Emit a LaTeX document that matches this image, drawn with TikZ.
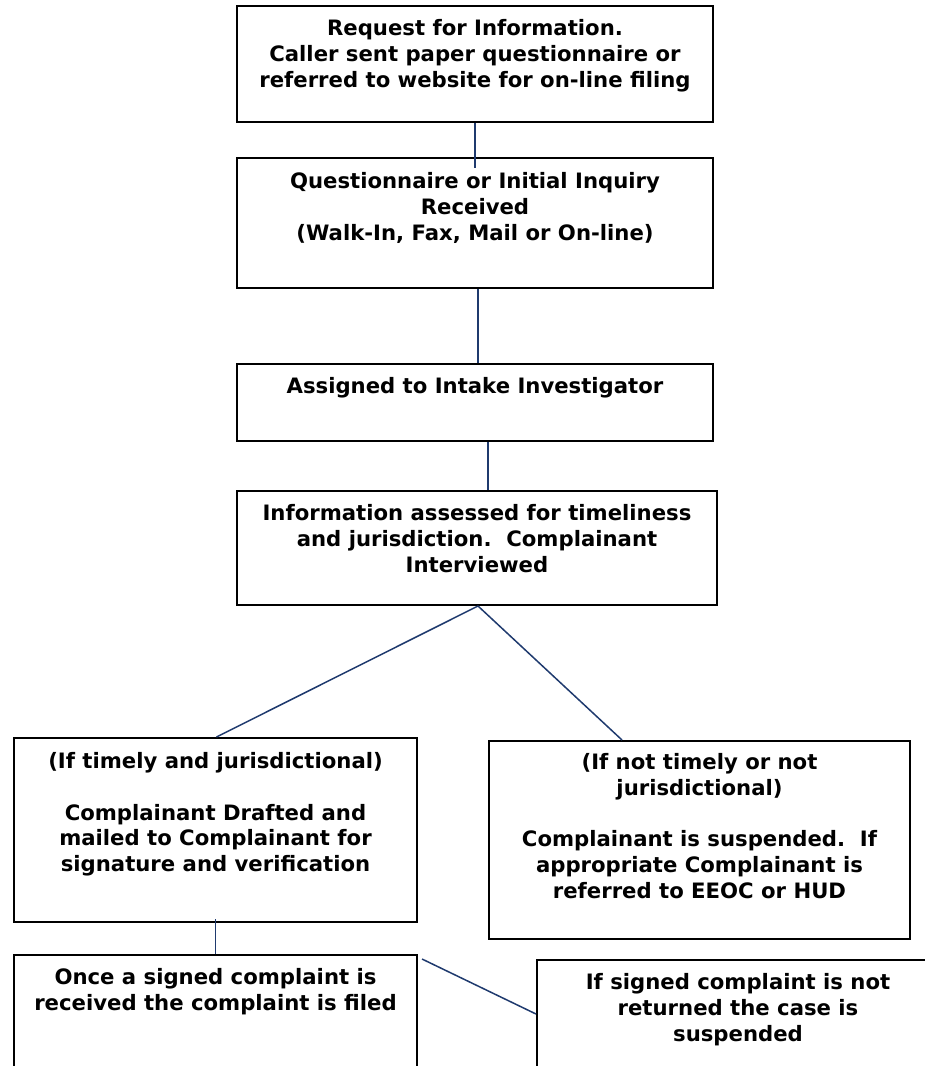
\documentclass[tikz,border=0pt]{standalone}
\usepackage{fontspec}
\setmainfont{DejaVu Sans}
\usetikzlibrary{positioning}
\definecolor{navy}{HTML}{1F3A6E}
\tikzset{
  box/.style={draw=black, line width=1pt, anchor=north west, inner sep=0pt},
  txt/.style={anchor=north, align=center, inner sep=0pt,
    font=\fontsize{10.6}{12.9}\selectfont\bfseries},
  link/.style={draw=navy, line width=0.75pt}
}
\begin{document}
\begin{tikzpicture}[x=0.5pt, y=-0.5pt]
    \useasboundingbox (0,0) rectangle (925,1066);
    \clip (0,0) rectangle (925,1066);
    % Kästen
    \node[box, minimum width=238pt, minimum height=58pt] (req) at (236,5) {};
    \node[box, minimum width=238pt, minimum height=65pt] (quest) at (236,157) {};
    \node[box, minimum width=238pt, minimum height=38.5pt] (assign) at (236,363) {};
    \node[box, minimum width=240pt, minimum height=57pt] (assess) at (236,490) {};
    \node[box, minimum width=201.5pt, minimum height=92pt] (timely) at (13,737) {};
    \node[box, minimum width=210.5pt, minimum height=99pt] (untimely) at (488,740) {};
    \node[box, minimum width=201.5pt, minimum height=80pt] (filed) at (13,954) {};
    \node[box, minimum width=201pt, minimum height=80pt] (lapsed) at (536,959) {};
    % Texte
    \node[txt, below=7pt of req.north] (reqtxt)
      {Request for Information.\\ Caller sent paper questionnaire or\\ referred to website for on-line filing};
    \node[txt, below=7.5pt of quest.north] (questtxt)
      {Questionnaire or Initial Inquiry\\ Received\\ (Walk-In, Fax, Mail or On-line)};
    \node[txt, below=7pt of assign.north] (assigntxt)
      {Assigned to Intake Investigator};
    \node[txt, below=7pt of assess.north] (assesstxt)
      {Information assessed for timeliness\\ and jurisdiction.\ \ Complainant\\ Interviewed};
    \node[txt, below=7.5pt of timely.north] (timelytxt)
      {(If timely and jurisdictional)\\[12.9pt] Complainant Drafted and\\ mailed to Complainant for\\ signature and verification};
    \node[txt, below=6.5pt of untimely.north] (untimelytxt)
      {(If not timely or not\\ jurisdictional)\\[12.9pt] Complainant is suspended.\ \ If\\ appropriate Complainant is\\ referred to EEOC or HUD};
    \node[txt, below=7pt of filed.north] (filedtxt)
      {Once a signed complaint is\\ received the complaint is filed};
    \node[txt, below=7pt of lapsed.north] (lapsedtxt)
      {If signed complaint is not\\ returned the case is\\ suspended};
    % Verbindungen
    \draw[link, shorten >=-5.5pt] (req.south) -- (quest.north);
    \draw[link] ([xshift=1.5pt]quest.south) -- ([xshift=1.5pt]assign.north);
    \draw[link] ([xshift=6.5pt]assign.south) -- ([xshift=5.5pt]assess.north);
    \draw[link] ([xshift=0.5pt]assess.south) -- ([xshift=0.5pt]timely.north);
    \draw[link] ([xshift=0.5pt]assess.south) -- ([xshift=-38.75pt]untimely.north);
    \draw[link, shorten <=-2pt] (timely.south) -- (filed.north);
    \draw[link] ([xshift=2pt,yshift=-2.5pt]filed.north east) -- ([yshift=-27.5pt]lapsed.north west);
\end{tikzpicture}
\end{document}
